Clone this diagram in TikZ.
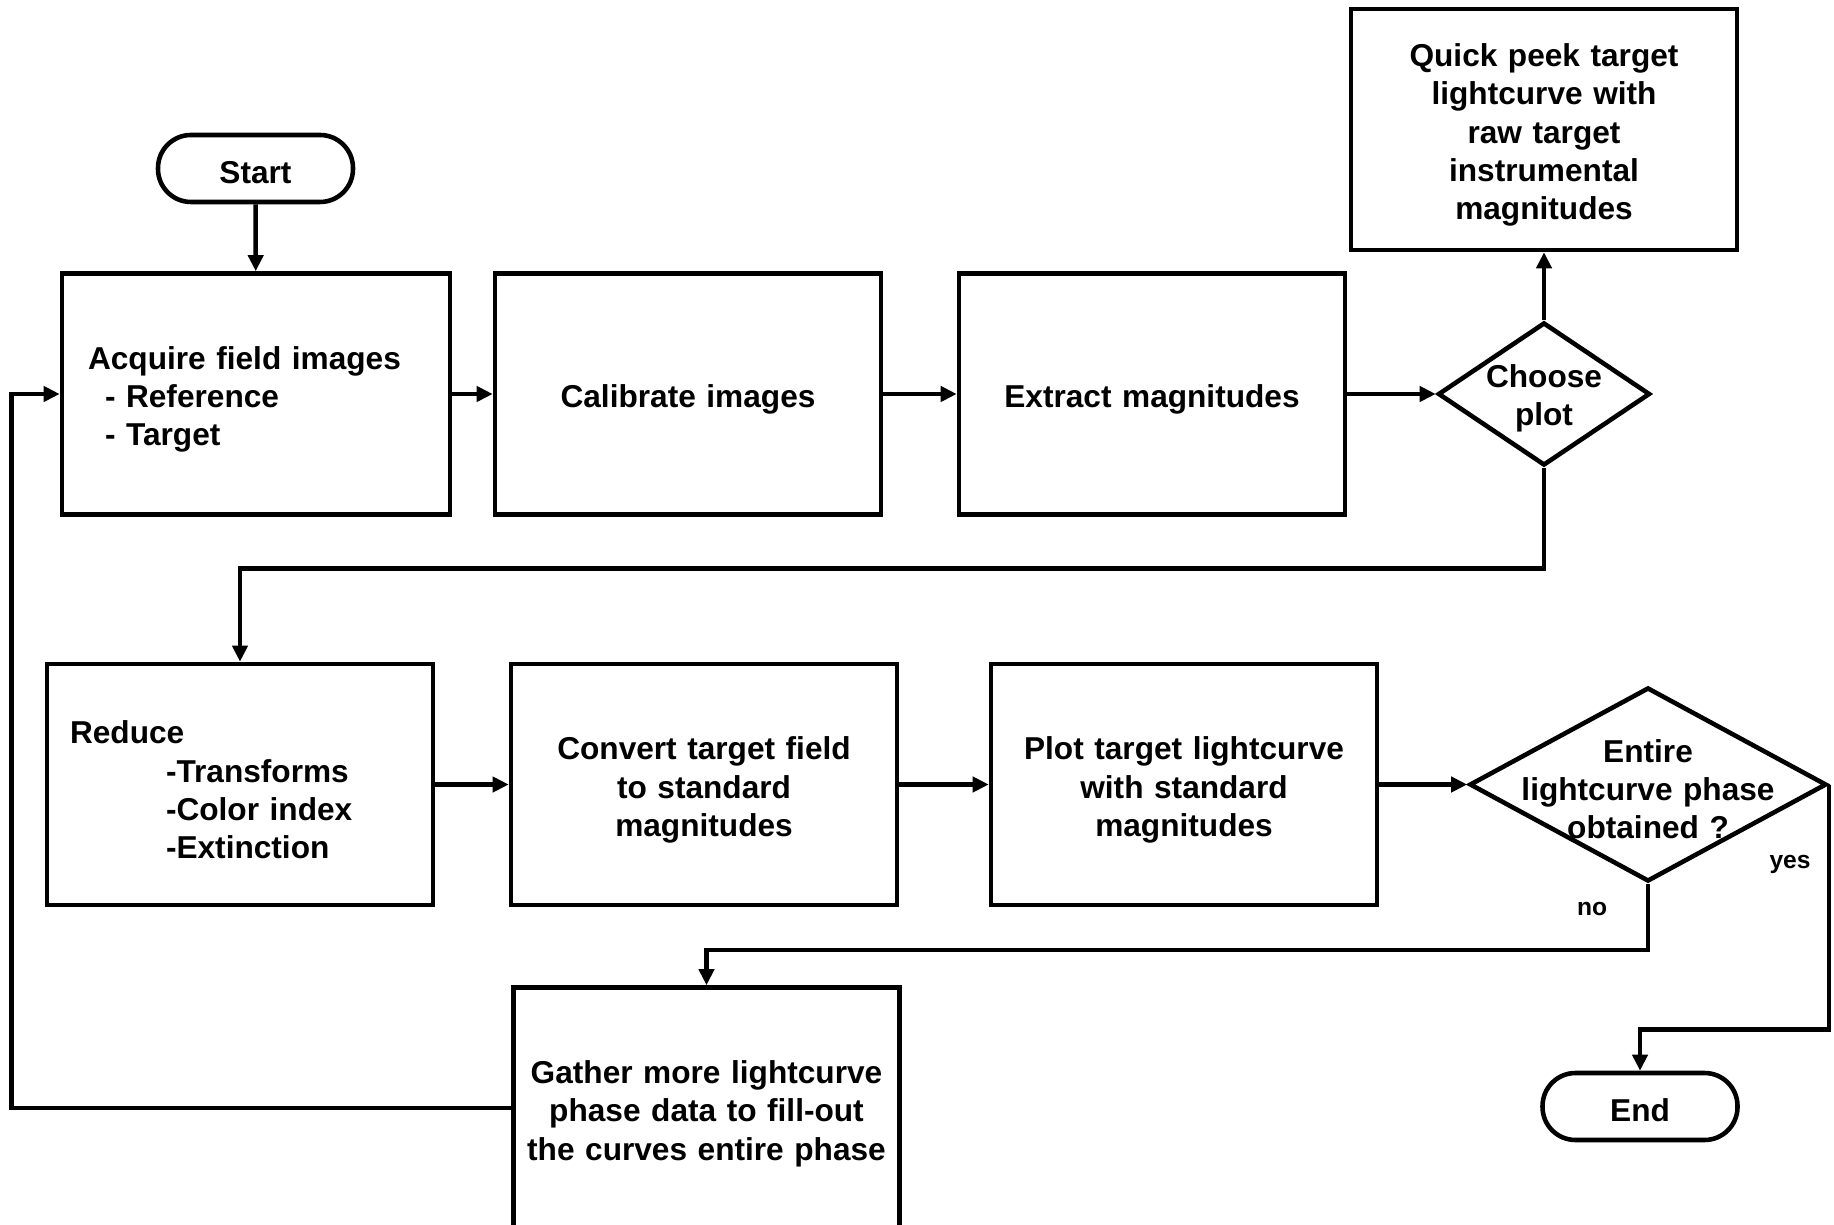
\documentclass[tikz,border=0pt]{standalone}
\usepackage{fontspec}
\setmainfont{Liberation Sans}
\usetikzlibrary{arrows.meta,shapes.geometric}

\begin{document}
\begin{tikzpicture}[
		line width=1.3pt,
		font=\fontsize{9}{10.9}\selectfont\bfseries,
		box/.style={draw, rectangle, minimum width=3.86cm, minimum height=2.41cm, text width=3.7cm, align=center, inner xsep=0.08cm, inner ysep=0pt, text height=0.34cm},
		lbox/.style={draw, rectangle, text width=3.36cm, minimum height=2.41cm, inner xsep=0.26cm, inner ysep=0pt, align=left, text height=0.34cm},
		term/.style={draw, rounded corners=0.33cm, minimum width=1.95cm, minimum height=0.67cm, inner sep=0pt, text height=0.30cm},
		choice/.style={draw, diamond, inner sep=0pt},
		txt/.style={text width=2.9cm, align=center, inner sep=0pt, text height=0.32cm},
		arr/.style={-{Triangle[length=0.16cm,width=0.15cm]}},
		small/.style={font=\fontsize{7}{8}\selectfont\bfseries}
	]
		%%%%% START %%%%%
		\fill[white] (0,0) rectangle (18.34,-12.25);
		\useasboundingbox (0,0) rectangle (18.34,-12.25);
		
		\node[term] (start) at (2.555,-1.685) {Start};
		\node[lbox] (acquire) at (2.56,-3.94) {Acquire field images\\\hspace*{0.17cm}- Reference\\\hspace*{0.17cm}- Target};
		\node[box] (calib) at (6.88,-3.94) {Calibrate images};
		\node[box] (extract) at (11.52,-3.94) {Extract magnitudes};
		\node[choice, minimum width=2.12cm, minimum height=1.43cm, label={[txt]center:Choose\\plot}] (choose) at (15.44,-3.94) {};
		\node[box] (quick) at (15.44,-1.295) {Quick peek target\\lightcurve with\\raw target\\instrumental\\magnitudes};
		
		\node[lbox, inner xsep=0.23cm, text width=3.40cm] (reduce) at (2.40,-7.845) {Reduce\\\hspace*{0.96cm}-Transforms\\\hspace*{0.96cm}-Color index\\\hspace*{0.96cm}-Extinction};
		\node[box] (convert) at (7.04,-7.845) {Convert target field\\to standard\\magnitudes};
		\node[box] (plot) at (11.84,-7.845) {Plot target lightcurve\\with standard\\magnitudes};
		\node[choice, minimum width=3.57cm, minimum height=1.94cm, label={[txt]center:Entire\\lightcurve phase\\obtained ?}] (entire) at (16.48,-7.845) {};
		
		\node[box] (gather) at (7.065,-11.08) {Gather more lightcurve\\phase data to fill-out\\the curves entire phase};
		\node[term] (end) at (16.40,-11.065) {End};
		
		\node[small] (yes) at (17.9,-8.64) {yes};
		\node[small] (no) at (15.92,-9.09) {no};
		
		% top row
		\draw[arr] (start) -- (acquire);
		\draw[arr] (acquire) -- (calib);
		\draw[arr] (calib) -- (extract);
		\draw[arr] (extract) -- (choose);
		\draw[arr] (choose) -- (quick);
		\draw[arr] (choose.south) -- ++(0,-1.01) -| (reduce.north);
		
		% bottom row
		\draw[arr] (reduce) -- (convert);
		\draw[arr] (convert) -- (plot);
		\draw[arr] (plot) -- (entire);
		\draw[arr] (entire.south) -- ++(0,-0.66) -| (gather.north);
		\draw[arr] (entire.east) -- ++(0,-2.45) -| (end.north);
		\draw[arr] (gather.west) -- ++(-5.0,0) |- (acquire.west);
		%%%%% END %%%%%
	\end{tikzpicture}
\end{document}
